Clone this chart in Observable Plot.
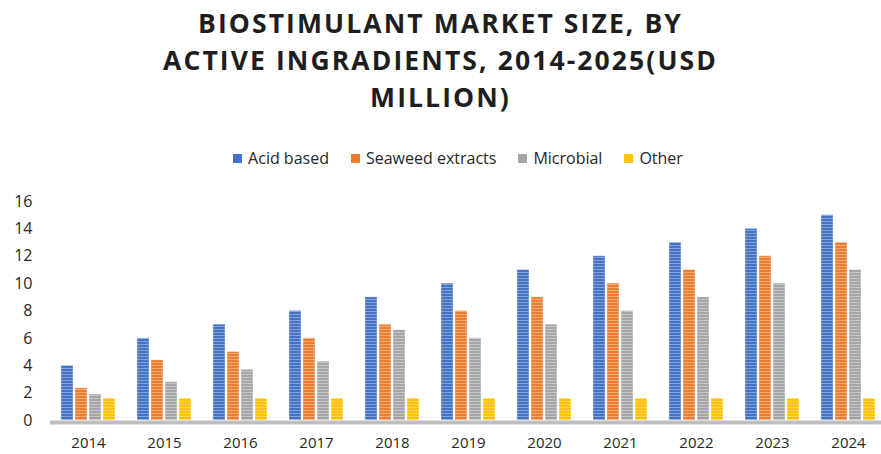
<!DOCTYPE html>
<html><head><meta charset="utf-8">
<script src="https://cdn.jsdelivr.net/npm/d3@7"></script>
<script src="https://cdn.jsdelivr.net/npm/@observablehq/plot@0.6"></script>
<style>
body{margin:0;background:#fff;width:881px;height:454px;overflow:hidden;position:relative;font-family:"Open Sans",sans-serif;}
#title{position:absolute;top:5px;left:0;width:881px;text-align:center;font-weight:700;font-size:26.5px;letter-spacing:2.1px;line-height:37px;color:#1e1e1e;}
#legend{position:absolute;top:148px;left:35px;width:846px;height:20px;display:flex;justify-content:center;align-items:center;gap:22px;font-size:16px;color:#262626;}
#legend .item{display:flex;align-items:center;gap:6px;}
#legend .sw{width:9px;height:9px;display:inline-block;}
#chart{position:absolute;top:180px;left:0;}
</style>
</head><body>
<svg width="0" height="0" style="position:absolute"><defs id="pdefs"></defs></svg>
<div id="title">BIOSTIMULANT MARKET SIZE, BY<br>ACTIVE INGRADIENTS, 2014-2025(USD<br>MILLION)</div>
<div id="legend"></div>
<div id="chart"></div>
<script>
const years = ["2014","2015","2016","2017","2018","2019","2020","2021","2022","2023","2024"];
const series = ["Acid based","Seaweed extracts","Microbial","Other"];
const acidBased = [4,6,7,8,9,10,11,12,13,14,15];
const seaweedExtracts = [2.35,4.4,5,6,7,8,9,10,11,12,13];
const microbial = [1.9,2.8,3.7,4.3,6.6,6,7,8,9,10,11];
const other = [1.6,1.6,1.6,1.6,1.6,1.6,1.6,1.6,1.6,1.6,1.6];
const yTicks = [0,2,4,6,8,10,12,14,16];
const colors = ["#4472c4","#ed7d31","#a5a5a5","#ffc000"];

const valuesBySeries = [acidBased, seaweedExtracts, microbial, other];
const data = [];
years.forEach((yr, i) => series.forEach((s, j) => data.push({year: yr, series: s, value: valuesBySeries[j][i]})));

// stripe patterns
const NS = "http://www.w3.org/2000/svg";
const defs = document.getElementById("pdefs");
const patternUrls = colors.map((c, j) => {
  const p = document.createElementNS(NS, "pattern");
  p.setAttribute("id", "pat" + j);
  p.setAttribute("patternUnits", "userSpaceOnUse");
  p.setAttribute("width", 4); p.setAttribute("height", 3);
  const r1 = document.createElementNS(NS, "rect");
  r1.setAttribute("width", 4); r1.setAttribute("height", 3); r1.setAttribute("fill", c);
  const r2 = document.createElementNS(NS, "rect");
  r2.setAttribute("y", 2); r2.setAttribute("width", 4); r2.setAttribute("height", 1);
  r2.setAttribute("fill", d3.interpolateRgb(c, "#fff")(0.35));
  p.appendChild(r1); p.appendChild(r2); defs.appendChild(p);
  return `url(#pat${j})`;
});

// legend
const legend = document.getElementById("legend");
series.forEach((s, j) => {
  const it = document.createElement("div"); it.className = "item";
  const sw = document.createElement("span"); sw.className = "sw"; sw.style.background = colors[j];
  const t = document.createElement("span"); t.textContent = s;
  it.appendChild(sw); it.appendChild(t); legend.appendChild(it);
});

const chart = Plot.plot({
  width: 881, height: 274,
  marginTop: 21, marginBottom: 34, marginLeft: 48, marginRight: -6,
  style: {fontFamily: "Open Sans, sans-serif", fontSize: "16px", color: "#262626", background: "transparent"},
  fx: {domain: years, paddingInner: 0, paddingOuter: 0, label: null},
  x: {domain: series, paddingInner: 0.12, paddingOuter: 0.6, axis: null},
  y: {domain: [0, 16], ticks: yTicks, tickSize: 0, tickPadding: 18, label: null},
  color: {domain: series, range: patternUrls},
  marks: [
    Plot.axisFx({anchor: "bottom", tickSize: 0, tickPadding: 17, fontSize: 15, label: null}),
    Plot.barY(data, {fx: "year", x: "series", y: "value", fill: "series", stroke: "#ffffff", strokeOpacity: 0.35, strokeWidth: 1}),
    Plot.ruleY([0], {stroke: "#bfbfbf", strokeWidth: 4, dy: 2})
  ]
});
document.getElementById("chart").appendChild(chart);
</script>
</body></html>
